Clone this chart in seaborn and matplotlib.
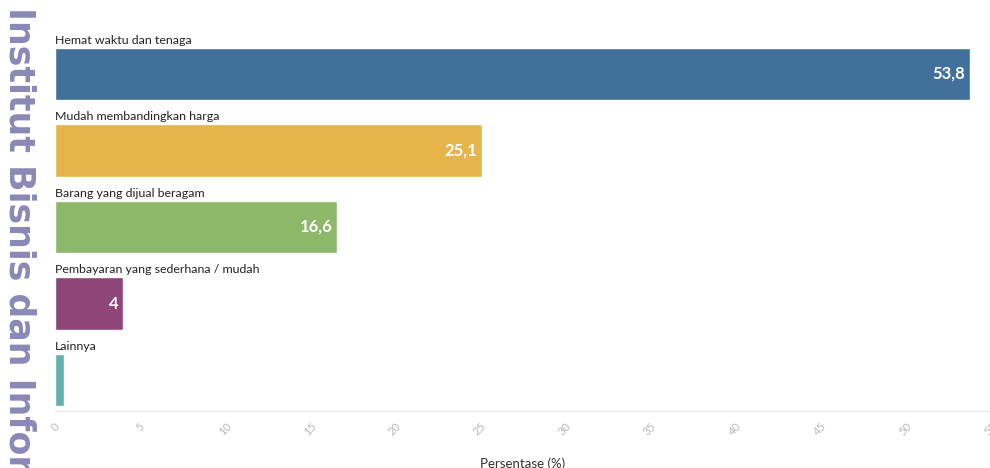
import numpy as np
import matplotlib
matplotlib.use("Agg")
import matplotlib.pyplot as plt
import seaborn as sns
import pandas as pd

# data
kategori = ["Hemat waktu dan tenaga", "Mudah membandingkan harga",
            "Barang yang dijual beragam", "Pembayaran yang sederhana / mudah",
            "Lainnya"]
persen = [53.8, 25.1, 16.6, 4.0, 0.5]
label_nilai = ["53,8", "25,1", "16,6", "4", ""]
warna = ["#41719b", "#e5b54b", "#8db86a", "#8e4577", "#63b0ad"]
xticks = [0, 5, 10, 15, 20, 25, 30, 35, 40, 45, 50, 55]

df = pd.DataFrame({"kategori": kategori, "persen": persen})

sns.set_style("white")
plt.rcParams["font.family"] = ["Lato", "DejaVu Sans"]

fig = plt.figure(figsize=(9.9, 4.68), dpi=100)
ax = fig.add_axes([55 / 990, 57 / 468, 935 / 990, 381 / 468])

sns.barplot(data=df, x="persen", y="kategori", hue="kategori",
            palette=warna, legend=False, width=0.68, ax=ax,
            saturation=1, orient="h")

ax.set_xlim(0, 55)
ax.set_ylim(4.405, -0.575)

# category labels above each bar
for i, nama in enumerate(kategori):
    ax.text(0, i - 0.37, nama, ha="left", va="bottom", fontsize=8.9,
            color="#222222")

# value labels inside the bars
for i, (v, t) in enumerate(zip(persen, label_nilai)):
    if t:
        ax.text(v - 0.25, i, t, ha="right", va="center", fontsize=12,
                fontweight="bold", color="white")

ax.set_yticks([])
ax.set_ylabel("")
ax.set_xticks(xticks)
ax.set_xticklabels([str(x) for x in xticks], rotation=45, ha="center",
                   fontsize=8, color="#b8b8b8")
ax.tick_params(axis="x", length=5, color="#e6e6e6", pad=2)
ax.set_xlabel("Persentase (%)", fontsize=9.5, color="#333333", labelpad=14)

for s in ["top", "right", "left"]:
    ax.spines[s].set_visible(False)
ax.spines["bottom"].set_color("#e6e6e6")

# watermark along the left edge
fig.text(0.003, 0.985, "Institut Bisnis dan Informatika Kwik Kian Gie",
         rotation=270, ha="left", va="top", fontsize=25, fontweight="heavy",
         color="#8a88b6", family=["DejaVu Sans"])

fig.savefig("out.png", dpi=100)
